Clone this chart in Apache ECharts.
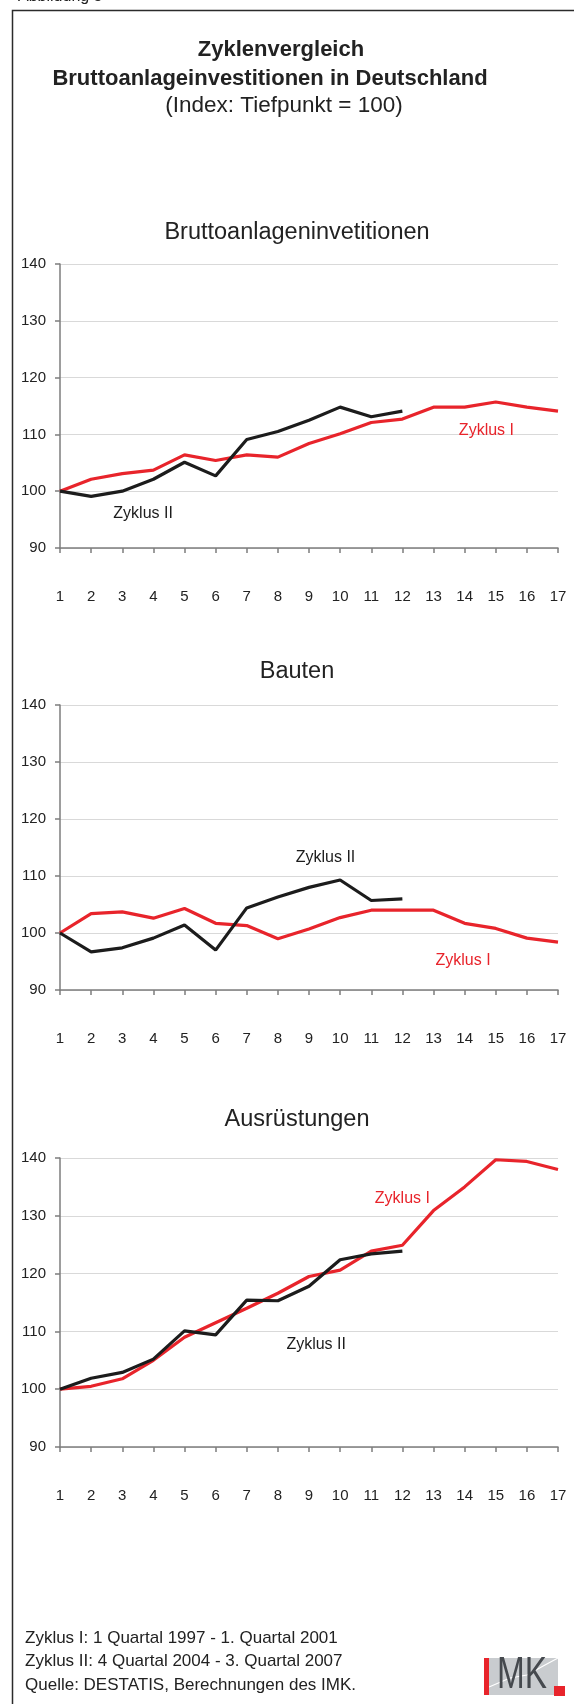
<!DOCTYPE html>
<html>
<head>
<meta charset="utf-8">
<title>Zyklenvergleich</title>
<script src="https://cdn.jsdelivr.net/npm/echarts@6/dist/echarts.min.js"></script>
<style>
    html, body { margin: 0; padding: 0; background: #fff; }
    #main { width: 574px; height: 1704px; }
</style>
</head>
<body>
<div id="main"></div>
<script>
    // Quartale ab Tiefpunkt
    var quarters = [1, 2, 3, 4, 5, 6, 7, 8, 9, 10, 11, 12, 13, 14, 15, 16, 17];
    var yTicks = [90, 100, 110, 120, 130, 140];

    // Bruttoanlageinvestitionen
    var totalZyklusI = [100, 102.1, 103.1, 103.7, 106.4, 105.4, 106.4, 106.0, 108.4, 110.1, 112.1, 112.7, 114.8, 114.8, 115.7, 114.8, 114.1];
    var totalZyklusII = [100, 99.1, 100, 102.1, 105.1, 102.7, 109.1, 110.5, 112.5, 114.8, 113.1, 114.1];

    // Bauten
    var bauZyklusI = [100, 103.4, 103.7, 102.6, 104.3, 101.7, 101.3, 99.0, 100.7, 102.7, 104.0, 104.0, 104.0, 101.7, 100.8, 99.1, 98.4];
    var bauZyklusII = [100, 96.7, 97.4, 99.1, 101.4, 97.0, 104.4, 106.3, 108.0, 109.3, 105.7, 106.0];

    // Ausruestungen
    var ausZyklusI = [100, 100.5, 101.8, 105.0, 109.0, 111.5, 114.0, 116.6, 119.5, 120.6, 123.9, 124.9, 130.9, 135.0, 139.7, 139.4, 138.0];
    var ausZyklusII = [100, 101.9, 102.9, 105.2, 110.1, 109.4, 115.4, 115.3, 117.8, 122.4, 123.4, 123.9];

    var panelTitles = ['Bruttoanlageninvetitionen', 'Bauten', 'Ausrüstungen'];
    var seriesNames = ['Zyklus I', 'Zyklus II'];

    // Beschriftung der Linien (Quartal, Indexwert)
    var labelsZyklusI = [[14.7, 110.6], [13.95, 95.1], [12.0, 133.0]];
    var labelsZyklusII = [[3.67, 96.1], [9.53, 113.3], [9.23, 107.8]];

    var font = "'Liberation Sans', Arial, sans-serif";
    var red = '#e8242b';
    var black = '#1c1c1c';
    var axisGray = '#7d7d7d';

    var panels = [
        { top: 264, height: 284, titleY: 233, one: totalZyklusI, two: totalZyklusII },
        { top: 705, height: 285, titleY: 672, one: bauZyklusI, two: bauZyklusII },
        { top: 1158, height: 289, titleY: 1120, one: ausZyklusI, two: ausZyklusII }
    ];

    function pairs(values) {
        return values.map(function (v, i) { return [quarters[i], v]; });
    }

    var grids = [], xAxes = [], yAxes = [], series = [];
    var graphics = [
        // Rahmen
        { type: 'rect', shape: { x: 12.5, y: 10.5, width: 700, height: 1800 }, style: { fill: 'none', stroke: '#2b2b2b', lineWidth: 1.5 }, z: 10 },
        { type: 'text', x: 18, y: 5, style: { text: 'Abbildung 3', font: '16px ' + font, fill: '#222', textVerticalAlign: 'bottom' } },
        { type: 'text', x: 281, y: 50, style: { text: 'Zyklenvergleich', font: 'bold 22px ' + font, fill: '#222', textAlign: 'center', textVerticalAlign: 'middle' } },
        { type: 'text', x: 270, y: 79, style: { text: 'Bruttoanlageinvestitionen in Deutschland', font: 'bold 22px ' + font, fill: '#222', textAlign: 'center', textVerticalAlign: 'middle' } },
        { type: 'text', x: 284, y: 106, style: { text: '(Index: Tiefpunkt = 100)', font: '22.5px ' + font, fill: '#222', textAlign: 'center', textVerticalAlign: 'middle' } },
        // Quelle
        { type: 'text', x: 25, y: 1638, style: { text: 'Zyklus I: 1 Quartal 1997 - 1. Quartal 2001', font: '17px ' + font, fill: '#222', textVerticalAlign: 'middle' } },
        { type: 'text', x: 25, y: 1661, style: { text: 'Zyklus II: 4 Quartal 2004 - 3. Quartal 2007', font: '17px ' + font, fill: '#222', textVerticalAlign: 'middle' } },
        { type: 'text', x: 25, y: 1685, style: { text: 'Quelle: DESTATIS, Berechnungen des IMK.', font: '17px ' + font, fill: '#222', textVerticalAlign: 'middle' } },
        // IMK Logo
        { type: 'rect', shape: { x: 484, y: 1658, width: 74, height: 37 }, style: { fill: '#c9cccf' } },
        { type: 'polyline', shape: { points: [[489, 1687], [510, 1678], [527, 1675], [545, 1665], [558, 1658]] }, style: { stroke: '#fff', lineWidth: 1.2, fill: 'none' } },
        { type: 'rect', shape: { x: 484, y: 1658, width: 5, height: 37 }, style: { fill: red } },
        { type: 'text', x: 497, y: 1698, scaleX: 0.74, style: { text: 'MK', font: '45px ' + font, fill: '#45494e', textVerticalAlign: 'bottom' } },
        { type: 'rect', shape: { x: 554, y: 1686, width: 11, height: 10 }, style: { fill: red } }
    ];

    panels.forEach(function (p, i) {
        grids.push({ left: 60, width: 498, top: p.top, height: p.height });
        xAxes.push({
            type: 'value', gridIndex: i, min: quarters[0], max: quarters[quarters.length - 1], interval: 1,
            axisLine: { show: true, onZero: false, lineStyle: { color: axisGray, width: 1.5 } },
            axisTick: { show: true, length: 5, lineStyle: { color: axisGray, width: 1.5 } },
            axisLabel: { margin: 41, fontSize: 15, fontFamily: font, color: '#222' },
            splitLine: { show: false }
        });
        yAxes.push({
            type: 'value', gridIndex: i, min: yTicks[0], max: yTicks[yTicks.length - 1], interval: 10,
            axisLine: { show: true, lineStyle: { color: axisGray, width: 1.5 } },
            axisTick: { show: true, length: 5, lineStyle: { color: axisGray, width: 1.5 } },
            axisLabel: { margin: 14, fontSize: 15, fontFamily: font, color: '#222' },
            splitLine: { show: true, lineStyle: { color: '#d9d9d9', width: 1.2 } }
        });
        series.push({
            name: seriesNames[0], type: 'line', xAxisIndex: i, yAxisIndex: i,
            data: pairs(p.one), symbol: 'none', lineStyle: { color: red, width: 3.2 },
            markPoint: {
                symbol: 'circle', symbolSize: 1, itemStyle: { color: 'transparent' },
                label: { show: true, position: 'inside', formatter: '{b}', color: red, fontSize: 16, fontFamily: font },
                data: [{ name: seriesNames[0], coord: labelsZyklusI[i] }]
            }
        });
        series.push({
            name: seriesNames[1], type: 'line', xAxisIndex: i, yAxisIndex: i,
            data: pairs(p.two), symbol: 'none', lineStyle: { color: black, width: 3.2 },
            markPoint: {
                symbol: 'circle', symbolSize: 1, itemStyle: { color: 'transparent' },
                label: { show: true, position: 'inside', formatter: '{b}', color: black, fontSize: 16, fontFamily: font },
                data: [{ name: seriesNames[1], coord: labelsZyklusII[i] }]
            }
        });
        graphics.push({
            type: 'text', x: 297, y: p.titleY,
            style: { text: panelTitles[i], font: '23.5px ' + font, fill: '#222', textAlign: 'center', textVerticalAlign: 'middle' }
        });
    });

    var myChart = echarts.init(document.getElementById('main'));
    var option = {
        animation: false,
        backgroundColor: '#fff',
        grid: grids,
        xAxis: xAxes,
        yAxis: yAxes,
        series: series,
        graphic: graphics
    };
    myChart.setOption(option);
</script>
</body>
</html>
